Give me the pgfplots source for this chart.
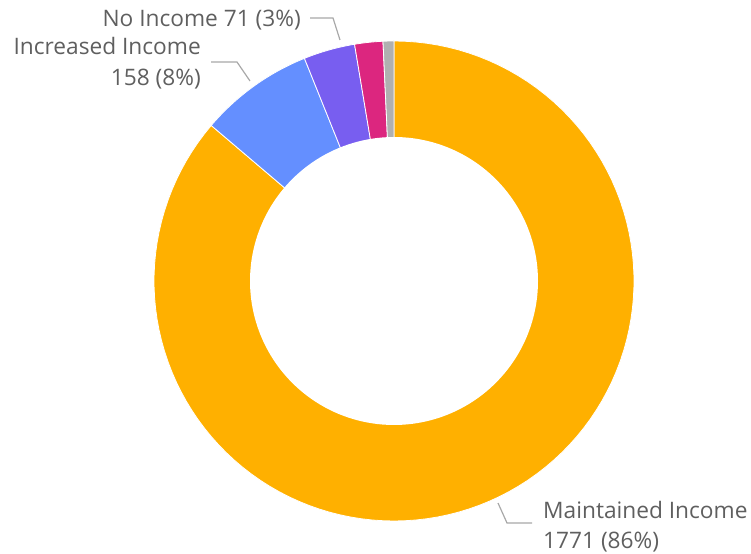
\documentclass[border=0pt]{standalone}
\usepackage{pgfplots}
\usepackage{pgfplotstable}
\pgfplotsset{compat=1.18}
\usepackage{fontspec}
\setmainfont{Open Sans}

\definecolor{s0}{HTML}{FFB000}
\definecolor{s1}{HTML}{648FFF}
\definecolor{s2}{HTML}{785EF0}
\definecolor{s3}{HTML}{DC267F}
\definecolor{s4}{HTML}{B0B0B0}
\definecolor{txt}{HTML}{5F5F5F}
\definecolor{lead}{HTML}{A8A8A8}

\pgfplotstableread{
name value
Maintained 1771
Increased 158
NoIncome 71
Other 39
Unknown 15
}\incometable

\pgfplotstablegetrowsof{\incometable}
\pgfmathtruncatemacro\nrows{\pgfplotsretval-1}
\gdef\mytotal{0}
\foreach \i in {0,...,\nrows}{%
  \pgfplotstablegetelem{\i}{value}\of\incometable
  \pgfmathsetmacro\myt{\mytotal+\pgfplotsretval}%
  \xdef\mytotal{\myt}%
}
\gdef\mycum{0}
\foreach \i in {0,...,\nrows}{%
  \pgfplotstablegetelem{\i}{value}\of\incometable
  \pgfmathsetmacro\myst{90-360*(\mycum/\mytotal)}%
  \pgfmathsetmacro\myc{\mycum+\pgfplotsretval}%
  \xdef\mycum{\myc}%
  \pgfmathsetmacro\myen{90-360*(\mycum/\mytotal)}%
  \expandafter\xdef\csname sa\i\endcsname{\myst}%
  \expandafter\xdef\csname ea\i\endcsname{\myen}%
}

\begin{document}
\begin{tikzpicture}
\begin{axis}[hide axis, scale only axis, width=751bp, height=554bp,
  xmin=0, xmax=751, ymin=0, ymax=554, clip=false]
\path (axis cs:0,0) rectangle (axis cs:751,554);
\pgfplotsinvokeforeach{0,...,4}{
  \addplot[fill=s#1, draw=white, line width=0.8pt,
    domain={\csname ea#1\endcsname}:{\csname sa#1\endcsname}, samples=120]
    ({394+240*cos(x)},{273+240*sin(x)}) -- (axis cs:394,273) -- cycle;
}
\addplot[fill=white, draw=none, domain=0:360, samples=180]
  ({394+144*cos(x)},{273+144*sin(x)}) -- cycle;

\draw[lead, line width=1.2pt] (axis cs:310,536) -- (axis cs:333,536) -- (axis cs:340,514);
\draw[lead, line width=1.2pt] (axis cs:211,492) -- (axis cs:237,492) -- (axis cs:250,473);
\draw[lead, line width=1.2pt] (axis cs:498,51) -- (axis cs:507,31) -- (axis cs:532,31);

\tikzset{lab/.style={text=txt, inner sep=0pt, font=\fontsize{22.7bp}{30bp}\selectfont}}
\node[lab, anchor=base east] at (axis cs:301,527) {No Income 71 (3\%)};
\node[lab, anchor=base east] at (axis cs:201,499) {Increased Income};
\node[lab, anchor=base east] at (axis cs:201,468) {158 (8\%)};
\node[lab, anchor=base west] at (axis cs:543,35) {Maintained Income};
\node[lab, anchor=base west] at (axis cs:543,6) {1771 (86\%)};
\end{axis}
\end{tikzpicture}
\end{document}
